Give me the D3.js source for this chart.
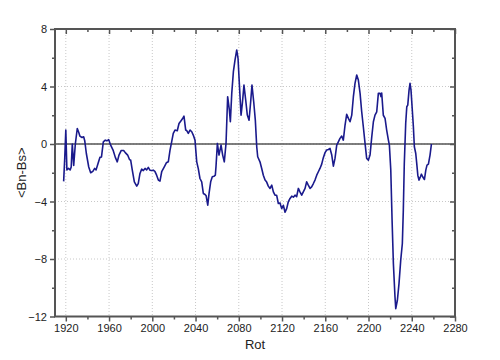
<!DOCTYPE html>
<html>
<head>
<meta charset="utf-8">
<script src="https://cdn.jsdelivr.net/npm/d3@7"></script>
<style>
	body { margin: 0; background: #fff; }
	svg { font-family: "Liberation Sans", Arial, sans-serif; }
	.grid line { stroke: #c8c8c8; stroke-dasharray: 1,2; stroke-width: 1; }
	.axis path { display: none; }
	.axis line { stroke: #555; stroke-width: 1.5; }
	.axis text { fill: #222; font-size: 11px; }
</style>
</head>
<body>
<div id="chart"></div>
<script>
// Carrington rotation numbers and <Bn-Bs> values
var rot = [1918, 1919, 1920, 1921, 1922.5, 1924, 1925, 1926, 1927.3, 1928.8, 1930.6, 1932, 1933, 1935, 1936.5, 1937.5, 1939, 1941.2, 1943, 1945, 1946.7, 1948, 1949.8, 1951.6, 1953, 1954.7, 1956.5, 1958, 1959.7, 1961.5, 1963.7, 1965.8, 1967.6, 1969.2, 1971.3, 1973.5, 1975, 1977.2, 1979, 1980, 1981.5, 1983.4, 1985.6, 1987, 1988.6, 1990.2, 1991.7, 1993.3, 1994.8, 1996.3, 1997.8, 1999.4, 2000.9, 2002.4, 2004, 2005.6, 2007.1, 2008.7, 2011.1, 2013, 2014.8, 2016.4, 2017.9, 2019.4, 2021, 2023.1, 2024.7, 2026.6, 2027.9, 2029.3, 2030.9, 2032, 2033.3, 2034.9, 2036.5, 2037.9, 2039.5, 2041.1, 2042.5, 2044.1, 2045.7, 2047.2, 2048.8, 2049.8, 2051.3, 2052.5, 2054, 2055.5, 2057, 2058.3, 2058.9, 2060.2, 2061.7, 2063.6, 2065.1, 2066.6, 2068.2, 2069.7, 2071.3, 2072.2, 2073.5, 2075, 2076.5, 2078.1, 2079.3, 2080.5, 2082.1, 2083.3, 2084.8, 2086.4, 2087.9, 2089.5, 2091, 2092.2, 2093.8, 2095.3, 2096.6, 2097.5, 2099.6, 2101.2, 2102.7, 2104.3, 2105.8, 2107.3, 2108.9, 2110.5, 2112, 2113.5, 2115, 2116.6, 2118.1, 2119.7, 2121.2, 2122.8, 2124.3, 2125.8, 2127.4, 2129, 2130.5, 2132, 2133.5, 2135.1, 2136.6, 2138.2, 2139.7, 2141.3, 2142.8, 2144.3, 2145.9, 2147.4, 2149, 2150.5, 2152.1, 2153.6, 2155.1, 2156.7, 2158.2, 2159.8, 2161.3, 2162.9, 2164.4, 2166, 2167.5, 2169, 2170.6, 2172.1, 2173.6, 2175.2, 2176.7, 2178.3, 2179.8, 2181.4, 2182.9, 2184.5, 2186, 2187.5, 2189.1, 2190.6, 2192.2, 2193.7, 2195.2, 2196.8, 2198.3, 2199.9, 2201.4, 2203, 2204.5, 2206, 2207.6, 2209.1, 2210.7, 2211.5, 2212.2, 2213.7, 2215.3, 2216.8, 2218.4, 2219.3, 2220.6, 2221.8, 2223, 2224.5, 2225.2, 2226.7, 2228.2, 2229.8, 2231.3, 2232.2, 2233.1, 2234.4, 2235.4, 2236.3, 2237.5, 2238.4, 2239.3, 2240.3, 2241.5, 2242.4, 2243.7, 2244.6, 2245.6, 2246.7, 2248, 2248.9, 2250.1, 2251.7, 2253, 2254.1, 2255.4, 2256.9, 2258.2];
var bnbs = [-2.6, -1.0, 0.97, -1.8, -1.7, -1.8, -1.6, 0.0, -1.5, 0.0, 1.08, 0.8, 0.55, 0.45, 0.5, 0.23, -0.66, -1.6, -2.0, -1.9, -1.7, -1.8, -1.35, -0.93, -0.9, 0.15, 0.27, 0.22, 0.3, -0.08, -0.42, -0.93, -1.24, -0.77, -0.45, -0.45, -0.6, -0.77, -1.1, -1.12, -1.82, -2.63, -2.93, -2.75, -2.05, -1.75, -1.85, -1.7, -1.8, -1.63, -1.82, -1.85, -1.82, -1.9, -2.17, -2.51, -2.58, -1.93, -1.59, -1.31, -1.24, -0.42, 0.15, 0.74, 0.97, 0.92, 1.43, 1.62, 1.75, 1.94, 0.97, 0.92, 0.74, 0.97, 0.85, 0.62, 0.27, -1.24, -1.7, -2.4, -2.63, -3.44, -3.51, -3.6, -4.26, -3.44, -2.63, -2.28, -2.25, -2.17, -1.59, 0.04, -0.77, -0.08, -0.77, -1.24, 0.04, 3.29, 2.36, 1.55, 3.52, 5.03, 5.84, 6.54, 5.96, 4.22, 2.01, 2.83, 4.1, 3.06, 2.01, 1.66, 2.94, 4.1, 2.94, 1.66, -0.19, -0.89, -1.24, -1.7, -2.17, -2.51, -2.65, -2.93, -3.09, -2.86, -3.33, -3.56, -3.56, -4.14, -4.1, -4.49, -4.26, -4.75, -4.5, -4.02, -3.79, -3.63, -3.7, -3.56, -3.67, -3.09, -3.33, -3.56, -3.33, -3.09, -2.63, -2.86, -3.09, -2.98, -2.75, -2.51, -2.17, -1.93, -1.7, -1.4, -0.95, -0.6, -0.42, -0.38, -0.31, -0.77, -1.54, -1.0, -0.08, 0.15, 0.39, 0.55, 0.27, 1.32, 2.06, 1.78, 1.55, 2.01, 3.29, 4.22, 4.8, 4.45, 3.52, 2.24, 1.2, 0.04, -1.0, -1.12, -0.77, 0.5, 1.55, 2.01, 2.24, 3.52, 3.52, 3.3, 3.55, 2.0, 1.78, 0.97, 0.27, -0.08, -1.82, -5.3, -8.31, -10.64, -11.45, -10.87, -9.71, -8.08, -6.92, -4.6, -1.35, 1.43, 2.59, 2.7, 3.75, 4.22, 3.75, 2.59, 1.2, -0.19, -0.66, -1.35, -2.17, -2.51, -2.28, -2.1, -2.28, -2.47, -1.82, -1.47, -1.4, -0.77, 0.0];

var xMajor = [1920, 1960, 2000, 2040, 2080, 2120, 2160, 2200, 2240, 2280];
var xMinor = [1940, 1980, 2020, 2060, 2100, 2140, 2180, 2220, 2260];
var yMajor = [-12, -8, -4, 0, 4, 8];
var yMinor = [-10, -6, -2, 2, 6];

var data = rot.map(function(r, i) { return { rot: r, v: bnbs[i] }; });

var margin = {top: 29, right: 45, bottom: 43.5, left: 55},
	width = 500,
	height = 360,
	innerW = width - margin.left - margin.right,
	innerH = height - margin.top - margin.bottom;

var svg = d3.select("#chart")
	.append("svg")
	.attr("width", width)
	.attr("height", height);

var g = svg.append("g")
	.attr("transform", "translate(" + margin.left + "," + margin.top + ")");

var x = d3.scaleLinear().domain([1910, 2280]).range([0, innerW]);
var y = d3.scaleLinear().domain([-12, 8]).range([innerH, 0]);

// dotted grid
g.append("g").attr("class", "grid")
	.selectAll("line").data(xMajor.slice(0, -1)).enter().append("line")
	.attr("x1", d => x(d)).attr("x2", d => x(d))
	.attr("y1", 0).attr("y2", innerH);
g.append("g").attr("class", "grid")
	.selectAll("line").data(yMajor.slice(1, -1)).enter().append("line")
	.attr("x1", 0).attr("x2", innerW)
	.attr("y1", d => y(d)).attr("y2", d => y(d));

// zero line
g.append("line")
	.attr("x1", 0).attr("x2", innerW)
	.attr("y1", y(0)).attr("y2", y(0))
	.attr("stroke", "#555")
	.attr("stroke-width", 1.5);

// axes: major + minor, outward on bottom/left, inward on top/right
g.append("g").attr("class", "axis")
	.attr("transform", "translate(0," + innerH + ")")
	.call(d3.axisBottom(x).tickValues(xMajor).tickSize(5).tickPadding(3).tickFormat(d3.format("d")));
g.append("g").attr("class", "axis")
	.attr("transform", "translate(0," + innerH + ")")
	.call(d3.axisBottom(x).tickValues(xMinor).tickSize(3).tickFormat(""));
g.append("g").attr("class", "axis")
	.call(d3.axisTop(x).tickValues(xMajor).tickSize(-5).tickFormat(""));
g.append("g").attr("class", "axis")
	.call(d3.axisTop(x).tickValues(xMinor).tickSize(-3).tickFormat(""));

g.append("g").attr("class", "axis")
	.call(d3.axisLeft(y).tickValues(yMajor).tickSize(5).tickPadding(3).tickFormat(d3.format("d")));
g.append("g").attr("class", "axis")
	.call(d3.axisLeft(y).tickValues(yMinor).tickSize(3).tickFormat(""));
g.append("g").attr("class", "axis")
	.attr("transform", "translate(" + innerW + ",0)")
	.call(d3.axisRight(y).tickValues(yMajor).tickSize(-5).tickFormat(""));
g.append("g").attr("class", "axis")
	.attr("transform", "translate(" + innerW + ",0)")
	.call(d3.axisRight(y).tickValues(yMinor).tickSize(-3).tickFormat(""));

// data line
g.append("path")
	.datum(data)
	.attr("fill", "none")
	.attr("stroke", "#1a1a8c")
	.attr("stroke-width", 1.6)
	.attr("stroke-linejoin", "round")
	.attr("d", d3.line()
		.x(function(d) { return x(d.rot); })
		.y(function(d) { return y(d.v); }));

// frame
g.append("rect")
	.attr("width", innerW).attr("height", innerH)
	.attr("fill", "none")
	.attr("stroke", "#555")
	.attr("stroke-width", 2);

// axis titles
svg.append("text")
	.attr("x", margin.left + innerW / 2)
	.attr("y", 349)
	.attr("text-anchor", "middle")
	.style("font-size", "13px")
	.style("fill", "#222")
	.text("Rot");

svg.append("text")
	.attr("transform", "translate(26," + (margin.top + innerH / 2) + ") rotate(-90)")
	.attr("text-anchor", "middle")
	.style("font-size", "13px")
	.style("fill", "#222")
	.text("<Bn-Bs>");
</script>
</body>
</html>
